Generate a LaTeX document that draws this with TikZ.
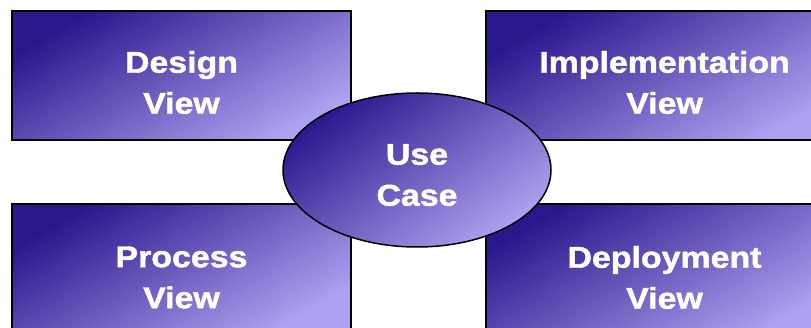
\documentclass[tikz,border=0pt]{standalone}
\usepackage{fontspec}
\setmainfont{Liberation Sans}
\newfontfamily\blk{Liberation Sans}[FakeStretch=1.13, BoldFeatures={FakeBold=1.4}]
\usetikzlibrary{shapes.geometric}
\definecolor{vdark}{RGB}{44,22,140}
\definecolor{vlight}{RGB}{174,162,240}
\tikzset{
  view/.style={draw=black, line width=1.5pt, top color=vdark, bottom color=vlight,
    shading angle=30, minimum height=129pt, inner sep=0pt, outer sep=0pt},
  viewtext/.style={text=white, align=center, inner sep=0pt,
    font=\blk\bfseries\fontsize{30}{41}\selectfont},
  usecase/.style={view, ellipse, shading angle=36, minimum width=268pt, minimum height=154pt}
}
\begin{document}
\begin{tikzpicture}[x=1pt,y=-1pt]
\useasboundingbox (0,0) rectangle (811,328);
\clip (0,0) rectangle (811,328);
\node[view, minimum width=339pt,
  label={[viewtext, yshift=-7pt]center:{Design\\View}}] (design) at (181.5,75.5) {};
\node[view, minimum width=357pt,
  label={[viewtext, yshift=-7pt]center:{Implementation\\View}}] (impl) at (664.5,75.5) {};
\node[view, minimum width=339pt,
  label={[viewtext, yshift=-9pt]center:{Process\\View}}] (process) at (181.5,268.5) {};
\node[view, minimum width=357pt,
  label={[viewtext, yshift=-9pt]center:{Deployment\\View}}] (deploy) at (664.5,268.5) {};
\node[usecase, label={[viewtext, yshift=-5pt]center:{Use\\Case}}] (uc) at (417,170) {};
\end{tikzpicture}
\end{document}
